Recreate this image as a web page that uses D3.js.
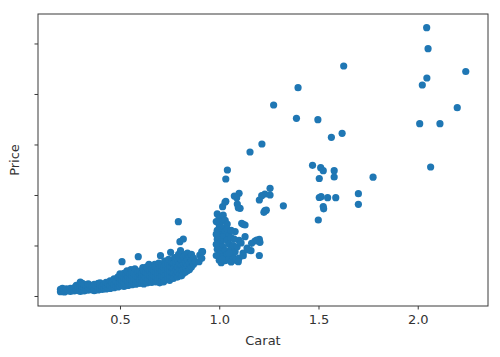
<!DOCTYPE html>
<html>
<head>
<meta charset="utf-8">
<script src="https://cdn.jsdelivr.net/npm/d3@7"></script>
<style>
html,body{margin:0;padding:0;background:#fff;}
text{font-family:"DejaVu Sans",sans-serif;}
</style>
</head>
<body>
<svg id="chart" width="500" height="357"></svg>
<script>
// ---- data (carat, price) ----
const lowBand = [
[0.20,170],[0.20,260],[0.21,210],[0.21,300],[0.22,160],[0.22,240],[0.23,200],[0.23,280],[0.24,230],
[0.25,180],[0.25,300],[0.26,250],[0.27,200],[0.27,330],[0.28,270],[0.28,420],[0.29,220],[0.29,350],
[0.30,180],[0.30,300],[0.30,450],[0.30,550],[0.31,250],[0.31,380],[0.31,500],[0.32,200],[0.32,330],[0.32,460],
[0.33,280],[0.33,420],[0.34,230],[0.34,350],[0.34,480],[0.35,300],[0.35,420],[0.36,250],[0.36,380],
[0.37,210],[0.37,330],[0.37,460],[0.38,280],[0.38,400],[0.39,240],[0.39,360],[0.39,500],
[0.40,300],[0.40,420],[0.40,520],[0.41,260],[0.41,380],[0.42,320],[0.42,450],[0.43,280],[0.43,400],[0.43,540],
[0.44,340],[0.44,480],[0.45,300],[0.45,420],[0.45,600],[0.46,370],[0.46,520],[0.47,330],[0.47,460],[0.47,680],
[0.48,400],[0.48,580],[0.49,360],[0.49,500],[0.49,760],
[0.50,400],[0.50,550],[0.50,700],[0.50,880],[0.51,450],[0.51,620],[0.51,800],[0.51,1358],
[0.52,380],[0.52,540],[0.52,720],[0.52,900],[0.53,480],[0.53,650],[0.53,850],[0.535,1000],
[0.54,420],[0.54,580],[0.54,760],[0.54,950],[0.55,500],[0.55,680],[0.55,880],[0.555,1050],
[0.56,450],[0.56,620],[0.56,800],[0.56,960],[0.57,520],[0.57,700],[0.57,900],[0.575,1080],
[0.58,470],[0.58,640],[0.58,820],[0.59,550],[0.59,740],[0.59,940],[0.592,1556],
[0.60,500],[0.60,680],[0.60,860],[0.60,990],[0.61,560],[0.61,760],[0.61,920],[0.615,1120],
[0.62,480],[0.62,640],[0.62,820],[0.62,980],[0.63,580],[0.63,760],[0.63,950],[0.635,1150],
[0.64,520],[0.64,700],[0.64,880],[0.65,600],[0.65,800],[0.65,1000],[0.646,1255],
[0.66,540],[0.66,720],[0.66,900],[0.66,1080],[0.67,620],[0.67,820],[0.67,1020],[0.675,1250],
[0.68,560],[0.68,750],[0.68,950],[0.68,1150],[0.69,650],[0.69,850],[0.69,1050],[0.695,1300],
[0.70,520],[0.70,720],[0.70,920],[0.70,1120],[0.704,1596],
[0.71,600],[0.71,800],[0.71,1000],[0.71,1200],[0.72,560],[0.72,760],[0.72,960],[0.72,1150],[0.725,1380],
[0.73,650],[0.73,850],[0.73,1050],[0.73,1250],[0.74,700],[0.74,900],[0.74,1100],[0.74,1300],[0.745,1450],
[0.75,620],[0.75,820],[0.75,1020],[0.75,1220],[0.755,1731],
[0.76,750],[0.76,950],[0.76,1150],[0.76,1350],[0.77,700],[0.77,900],[0.77,1100],[0.77,1300],[0.775,1520],
[0.78,800],[0.78,1000],[0.78,1200],[0.78,1400],[0.79,750],[0.79,950],[0.79,1150],[0.79,1450],[0.795,1650],
[0.80,850],[0.80,1050],[0.80,1250],[0.80,1500],[0.802,2150],[0.794,2942],
[0.81,800],[0.81,1000],[0.81,1200],[0.81,1400],[0.81,1600],[0.805,1800],
[0.82,900],[0.82,1100],[0.82,1300],[0.82,1550],[0.819,2257],
[0.83,950],[0.83,1150],[0.83,1350],[0.83,1650],[0.84,1000],[0.84,1200],[0.84,1450],[0.84,1700],
[0.85,1050],[0.85,1300],[0.85,1550],[0.86,1150],[0.86,1400],[0.86,1650],[0.87,1250],[0.87,1500],[0.88,1350],
[0.898,1358],[0.902,1624],[0.912,1754],[0.912,1493],[0.916,1754]
];

const oneCaratColumn = [
[0.99,3250],[1.00,3100],[1.02,3200],[1.01,2950],[1.03,3000],[1.00,2800],[1.02,2700],[1.04,2850],
[0.99,2600],[1.01,2500],[1.03,2550],[1.00,2400],[1.02,2350],[1.05,2400],[0.99,2250],[1.01,2150],
[1.04,2200],[1.00,2050],[1.02,1950],[1.05,2050],[0.99,1850],[1.01,1750],[1.03,1800],[1.06,1900],
[1.00,1650],[1.02,1550],[1.04,1650],[1.00,1420],[1.01,1320],[1.03,1400],[1.05,1500],[1.06,1350],
[1.07,1550],[1.08,1750],[1.07,2000],[1.09,1950],[1.10,2200],[1.06,2300],[1.08,2550],[1.11,2100],
[1.12,1700],[1.14,1900],[1.10,1500],[1.13,2350],[1.05,1700],[1.09,1400],
[0.985,2950],[0.985,2450],[0.985,2050],[0.985,1600],[1.015,1450],[1.04,2650],[1.06,2600],[1.075,2250]
];

const midPoints = [
[1.256,4265],[1.230,4039],[1.214,3972],[1.202,3802],[1.256,4000],[1.230,3378],[1.225,3315],[1.237,3400],
[1.041,4990],[1.033,4633],[1.100,4067],[1.076,3960],[1.091,3643],[1.105,3473],[1.033,3750],[1.017,3536],
[1.088,3893],[1.096,3497],[1.029,3711],
[1.121,2839],[1.113,2879],[1.130,2812],[1.202,2245],[1.180,2178],[1.163,2087],[1.189,2218],[1.205,2127],
[1.160,1794],[1.202,1604],[1.121,1596],[1.084,1426],[1.146,1822],[1.096,1358]
];

const highPoints = [
[2.045,10625],[2.052,9793],[2.046,8633],[2.023,8356],[2.242,8890],[2.199,7457],[2.010,6823],[2.112,6823],[2.065,5108],
[1.627,9108],[1.397,8249],[1.274,7564],[1.389,7037],[1.497,6981],[1.565,6285],[1.619,6443],[1.215,6019],[1.155,5702],
[1.470,5176],[1.511,5081],[1.524,4962],[1.579,4962],[1.579,4712],[1.504,4653],[1.775,4704],[1.701,4051],[1.701,3631],
[1.504,3901],[1.513,3932],[1.546,3893],[1.587,3893],[1.524,3544],[1.526,3453],[1.499,3010],[1.323,3572]
];

const xTicks = [0.5, 1.0, 1.5, 2.0];
const yTicks = [0, 2000, 4000, 6000, 8000, 10000];
const xLabel = "Carat";
const yLabel = "Price";

// ---- drawing ----
const points = [].concat(lowBand, oneCaratColumn, midPoints, highPoints);
const svg = d3.select("#chart");
const L = 38, R = 488, T = 14, B = 306;

const x = d3.scaleLinear().domain([0.0869, 2.354]).range([L, R]);
const y = d3.scaleLinear().domain([-396, 11167]).range([B, T]);

svg.append("rect").attr("width",500).attr("height",357).attr("fill","#fff");

svg.append("g").selectAll("circle").data(points).join("circle")
  .attr("cx", d => x(d[0]))
  .attr("cy", d => y(d[1]))
  .attr("r", 3.6)
  .attr("fill", "#1f77b4");

const axisColor = "#3a3a3a";
const xAxis = svg.append("g").attr("transform", `translate(0,${B})`)
  .call(d3.axisBottom(x).tickValues(xTicks).tickFormat(d3.format(".1f")).tickSize(3.5).tickPadding(5));
const yAxis = svg.append("g").attr("transform", `translate(${L},0)`)
  .call(d3.axisLeft(y).tickValues(yTicks).tickFormat("").tickSize(3.5));
[xAxis, yAxis].forEach(g => {
  g.select(".domain").remove();
  g.selectAll("line").attr("stroke", axisColor).attr("stroke-width", 1);
  g.selectAll("text").attr("fill", "#333").style("font-size", "13px").style("font-family", "DejaVu Sans");
});

svg.append("rect").attr("x", L).attr("y", T).attr("width", R - L).attr("height", B - T)
  .attr("fill", "none").attr("stroke", axisColor).attr("stroke-width", 1);

svg.append("text").attr("x", (L + R) / 2).attr("y", 345).attr("text-anchor", "middle")
  .attr("fill", "#333").style("font-size", "13px").text(xLabel);
svg.append("text").attr("transform", `translate(19,${(T + B) / 2}) rotate(-90)`).attr("text-anchor", "middle")
  .attr("fill", "#333").style("font-size", "13px").text(yLabel);
</script>
</body>
</html>
